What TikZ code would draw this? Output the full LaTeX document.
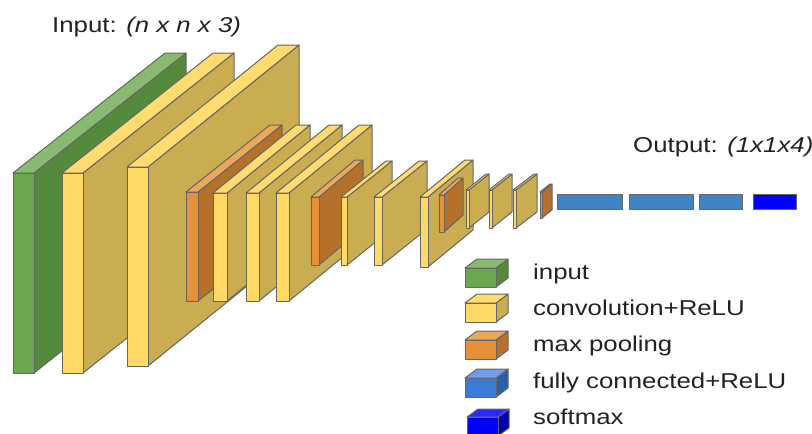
\documentclass[tikz,border=0pt]{standalone}
\usepackage{fontspec}
\setmainfont{Liberation Sans}
\newfontfamily\lblfont[FakeStretch=1.2]{Liberation Sans}
\definecolor{edgegray}{HTML}{666666}
\definecolor{txt}{HTML}{222222}
\definecolor{gfront}{HTML}{6AA84F}
\definecolor{gside}{HTML}{538A3C}
\definecolor{gtop}{HTML}{88BB70}
\definecolor{yfront}{HTML}{FFD966}
\definecolor{yside}{HTML}{C9AD50}
\definecolor{ytop}{HTML}{FFDC70}
\definecolor{ofront}{HTML}{E69138}
\definecolor{oside}{HTML}{B5702A}
\definecolor{otop}{HTML}{EBA85C}
\definecolor{fcblue}{HTML}{3D85C6}
\definecolor{bfront}{HTML}{3C7AD6}
\definecolor{bside}{HTML}{2C5EAA}
\definecolor{btop}{HTML}{6D9EEB}
\definecolor{sfront}{HTML}{0000FF}
\definecolor{sside}{HTML}{0000B0}
\definecolor{stop}{HTML}{2A2AFF}
\tikzset{
  face/.style={draw=edgegray, line width=1pt, line join=round},
  lbl/.style={font=\lblfont\fontsize{21.5}{24}\selectfont, text=txt, inner sep=0pt, anchor=base west},
  fcbar/.style={face, fill=fcblue},
}
% \cnnbox{x1}{x2}{ytop}{ybot}{dx}{dy}{front}{side}{top}
\newcommand{\cnnbox}[9]{%
  \draw[face, fill=#8] (#2,#3) -- (#2+#5,#3-#6) -- (#2+#5,#4-#6) -- (#2,#4) -- cycle;
  \draw[face, fill=#9] (#1,#3) -- (#1+#5,#3-#6) -- (#2+#5,#3-#6) -- (#2,#3) -- cycle;
  \draw[face, fill=#7] (#1,#3) rectangle (#2,#4);
}
\begin{document}
\begin{tikzpicture}[x=1pt, y=-1pt]
\useasboundingbox (0,0) rectangle (812,434);
% large layers
\cnnbox{13}{34}{173}{373}{152}{120}{gfront}{gside}{gtop}
\cnnbox{62}{83}{173}{373}{151}{120}{yfront}{yside}{ytop}
\cnnbox{127}{148}{167}{366}{151}{122}{yfront}{yside}{ytop}
% second group
\cnnbox{186}{198}{192}{301}{84}{67}{ofront}{oside}{otop}
\cnnbox{213}{227}{193}{301}{83}{68}{yfront}{yside}{ytop}
\cnnbox{246}{259}{193}{301}{83}{68}{yfront}{yside}{ytop}
\cnnbox{276}{289}{193}{301}{83}{68}{yfront}{yside}{ytop}
% third group
\cnnbox{311}{319}{197}{265}{44}{37}{ofront}{oside}{otop}
\cnnbox{341}{347}{197}{265}{45}{36}{yfront}{yside}{ytop}
\cnnbox{374}{382}{197}{265}{45}{36}{yfront}{yside}{ytop}
\cnnbox{420}{428}{197}{267}{45}{37}{yfront}{yside}{ytop}
% fourth group
\cnnbox{439}{444}{195}{232}{19}{17}{ofront}{oside}{otop}
\cnnbox{466}{469}{190}{228}{20}{16}{yfront}{yside}{ytop}
\cnnbox{489}{492}{190}{228}{20}{16}{yfront}{yside}{ytop}
\cnnbox{513}{516}{190}{228}{21}{16}{yfront}{yside}{ytop}
\cnnbox{540}{542}{192}{218}{10}{8}{ofront}{oside}{otop}
% fully connected + softmax
\draw[fcbar] (557,194) rectangle (622,209);
\draw[fcbar] (629,194) rectangle (693,209);
\draw[fcbar] (699,194) rectangle (742,209);
\draw[face, fill=sfront] (753,194) rectangle (796,209);
% titles
\node[lbl] (inlbl) at (52,32) {Input: \itshape(n x n x 3)};
\node[lbl] (outlbl) at (633,152) {Output: \itshape(1x1x4)};
% legend
\cnnbox{465}{496}{268}{287}{12}{9}{gfront}{gside}{gtop}
\cnnbox{465}{496}{303}{322}{12}{9}{yfront}{yside}{ytop}
\cnnbox{465}{496}{340}{359}{12}{9}{ofront}{oside}{otop}
\cnnbox{465}{496}{378}{397}{12}{9}{bfront}{bside}{btop}
\cnnbox{467}{498}{417}{436}{11}{8}{sfront}{sside}{stop}
\node[lbl] (lg1) at (533,279) {input};
\node[lbl] (lg2) at (533,315) {convolution+ReLU};
\node[lbl] (lg3) at (533,351) {max pooling};
\node[lbl] (lg4) at (533,388) {fully connected+ReLU};
\node[lbl] (lg5) at (533,424) {softmax};
\end{tikzpicture}
\end{document}
